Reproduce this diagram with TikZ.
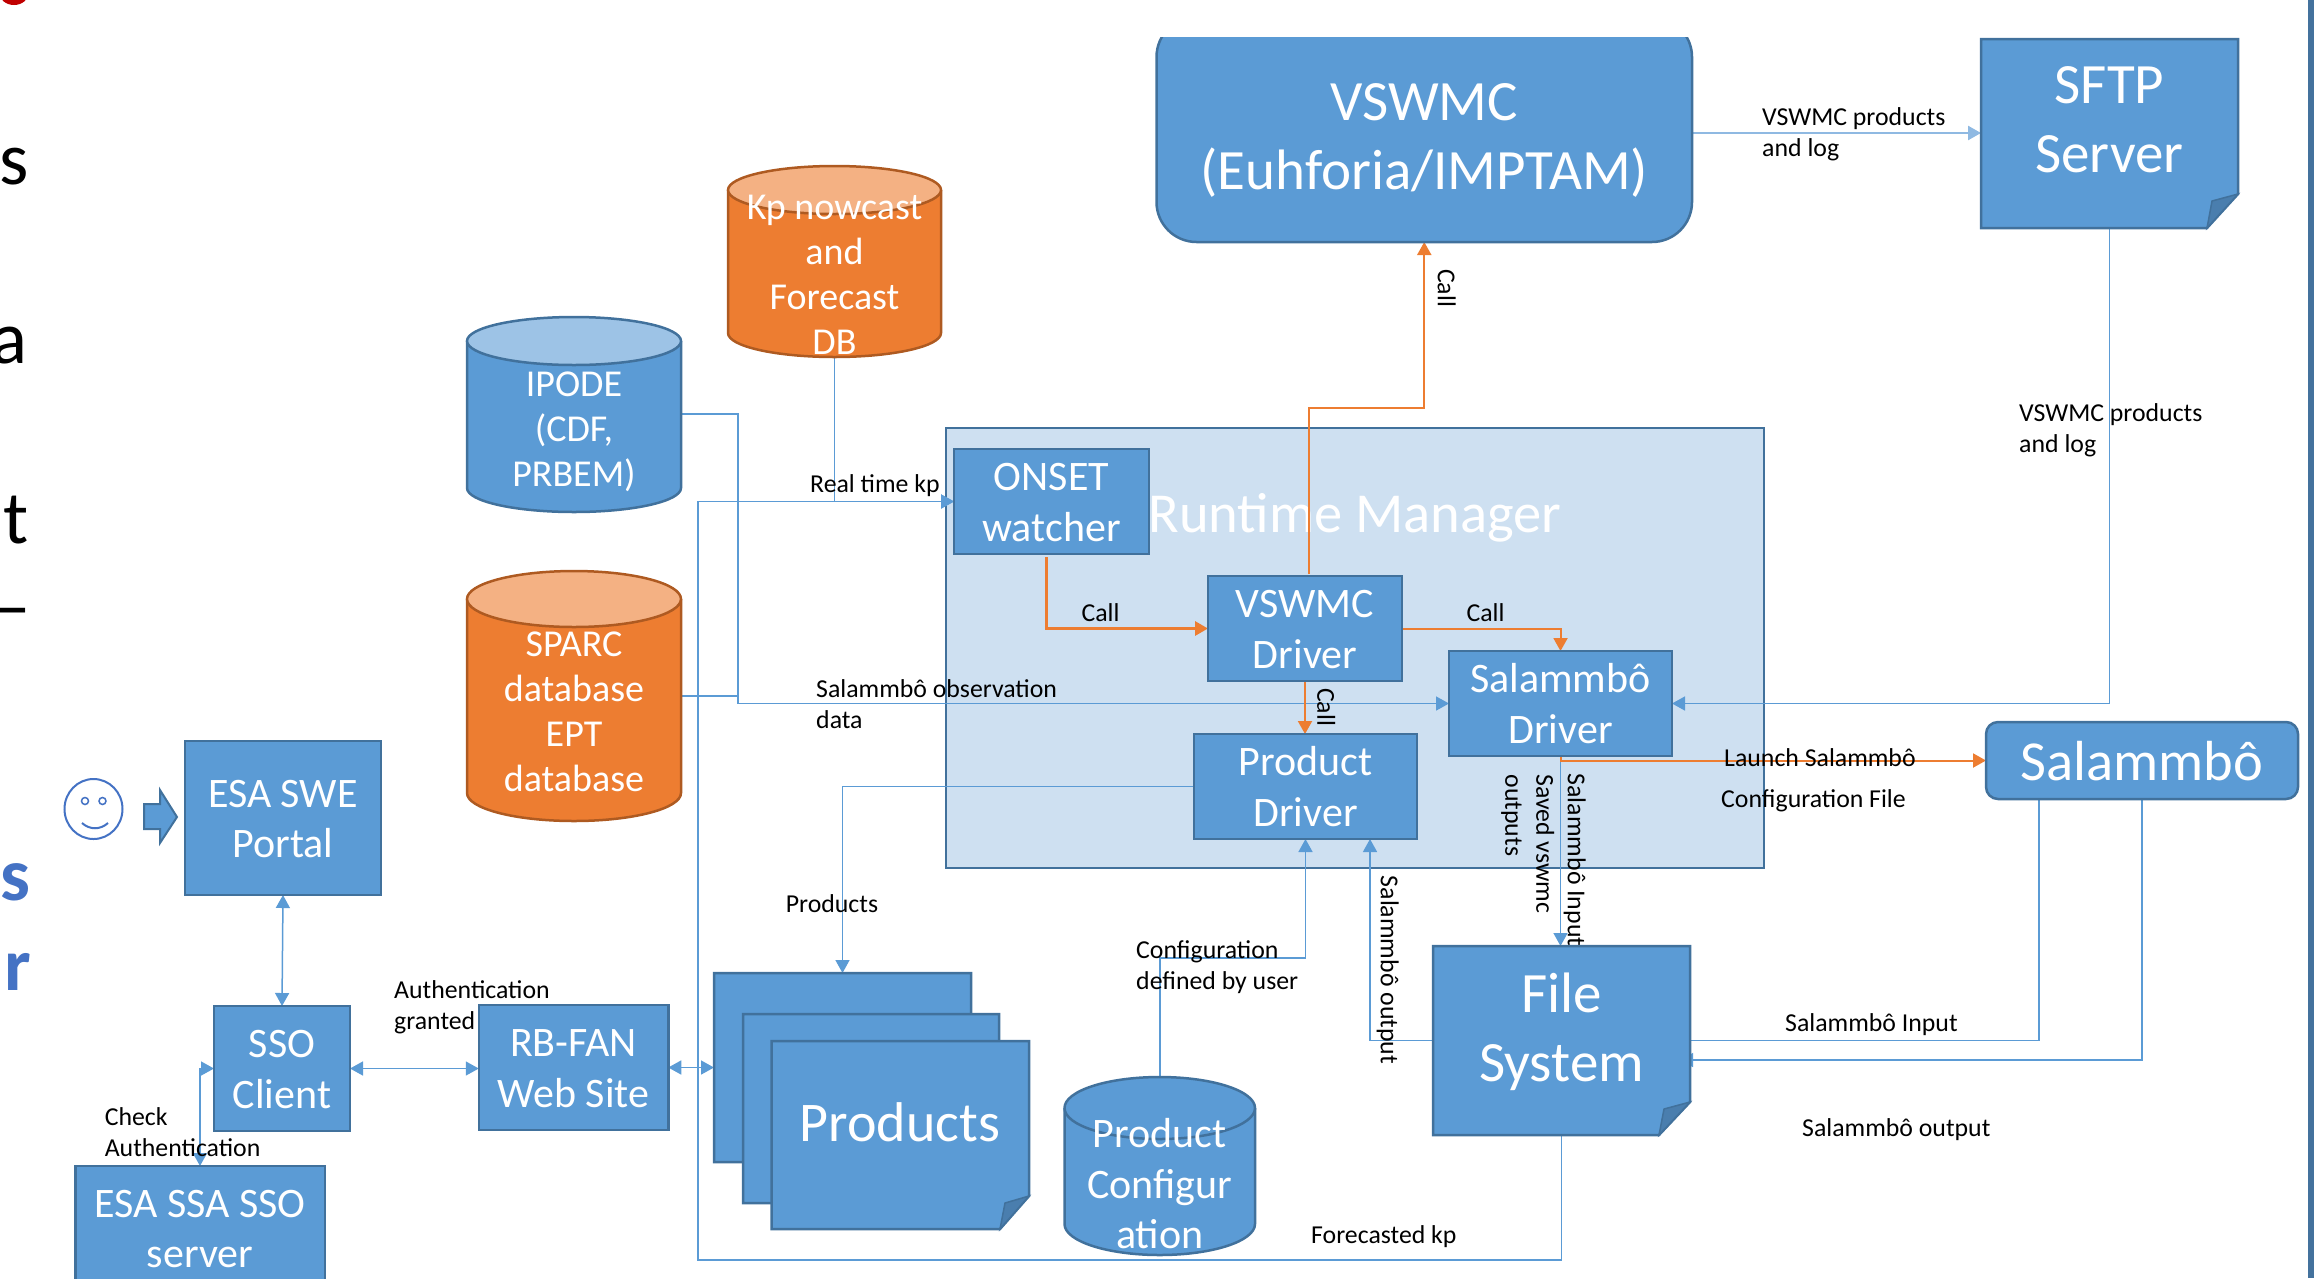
\documentclass[tikz,border=0pt]{standalone}
\usepackage{fontspec}
\setmainfont{Carlito}
\usetikzlibrary{arrows.meta,calc}
\definecolor{bfill}{HTML}{5B9BD5}
\definecolor{bedge}{HTML}{41719C}
\definecolor{btop}{HTML}{9DC3E6}
\definecolor{bfold}{HTML}{4A7EAE}
\definecolor{ofill}{HTML}{ED7D31}
\definecolor{oedge}{HTML}{AE5A21}
\definecolor{otop}{HTML}{F4B183}
\definecolor{rfill}{HTML}{CEE0F1}
\definecolor{lineb}{HTML}{5B9BD5}
\definecolor{linel}{HTML}{8FB9E2}
\definecolor{sidebar}{HTML}{44729D}
\definecolor{slideblue}{HTML}{4472C4}
\definecolor{slidered}{HTML}{C00000}
\newcommand{\ftS}{\fontsize{25.8}{31}\selectfont}
\newcommand{\ftM}{\fontsize{38}{45}\selectfont}
\newcommand{\ftL}{\fontsize{42}{50.5}\selectfont}
\newcommand{\ftX}{\fontsize{57}{69}\selectfont}
\newcommand{\st}{\rule[-0.2em]{0pt}{1.1em}}
\newcommand{\T}[1]{\st #1\st}
% name, x1, x2, y-top-centre, y-bottom-centre, ry, fill, topfill, edge
\newcommand{\cyl}[9]{%
  \draw[line width=2.5pt,draw=#9,fill=#7] (#2,#4) -- (#2,#5)
     arc[start angle=180,end angle=0,x radius={(#3-#2)/2},y radius=#6]
     -- (#3,#4);
  \draw[line width=2.5pt,draw=#9,fill=#8] ({(#2+#3)/2},#4) ellipse[x radius={(#3-#2)/2},y radius=#6];
}
% x1,y1,x2,y2,fold height,fold width
\newcommand{\foldbox}[6]{%
  \draw[line width=2.5pt,draw=bedge,fill=bfill] (#1,#2) -- (#3,#2) -- (#3,#4-#5) -- (#3-#6,#4) -- (#1,#4) -- cycle;
  \draw[line width=1.5pt,draw=bedge,fill=bfold] (#3,#4-#5) -- (#3-#6+5,#4-#5+7) -- (#3-#6,#4) -- cycle;
}
\tikzset{
  boxn/.style={draw=bedge,fill=bfill,line width=2.5pt,text=white,align=center,inner sep=0pt,font=\ftL},
  ghost/.style={inner sep=0pt,outer sep=0pt},
  ctext/.style={text=white,align=center,inner sep=0pt},
  lab/.style={text=black,align=left,inner sep=0pt,font=\ftS},
  edge thin/.style={draw=lineb,line width=1.5pt},
  edge org/.style={draw=ofill,line width=2pt},
  edge orgt/.style={draw=ofill,line width=3pt},
  tipe/.style={-{Triangle[length=13pt,width=14pt]}},
  tipb/.style={{Triangle[length=13pt,width=14pt]}-{Triangle[length=13pt,width=14pt]}},
}
\begin{document}
\begin{tikzpicture}[x=1pt,y=-1pt]
\useasboundingbox (0,0) rectangle (2314,1278);
\clip (0,0) rectangle (2314,1278);
% slide remains at the left edge and right edge
\fill[slidered] (14,-8) ellipse[x radius=15,y radius=13];
\fill[sidebar] (2308,0) rectangle (2314,1278);
\node[anchor=base east,inner sep=0pt,font=\fontsize{75}{90}\selectfont] (frs) at (29,184) {s};
\node[anchor=base east,inner sep=0pt,font=\fontsize{75}{90}\selectfont] (fra) at (28,363) {a};
\node[anchor=base east,inner sep=0pt,font=\fontsize{75}{90}\selectfont] (frt) at (29,543) {nt};
\node[anchor=base east,inner sep=0pt,font=\fontsize{75}{90}\selectfont] (frd) at (31,631) {–};
\node[anchor=base east,inner sep=0pt,text=slideblue,font=\fontsize{75}{90}\selectfont\bfseries] (frb) at (31,900) {s};
\node[anchor=base east,inner sep=0pt,text=slideblue,font=\fontsize{75}{90}\selectfont\bfseries] (frr) at (31,990) {r};

% runtime manager panel
\node[draw=bedge,fill=rfill,line width=2.5pt,minimum width=818pt,minimum height=440pt,inner sep=0pt] (runtime) at (1355,648) {};
\node[text=white,inner sep=0pt,font=\fontsize{56.5}{70}\selectfont] (rtlabel) at (1355,513) {\T{Runtime Manager}};

% geometry of shapes without a simple node outline
\node[ghost,minimum width=214pt,minimum height=194pt] (ipode) at (574,414) {};
\node[ghost,minimum width=214pt,minimum height=250pt] (sparc) at (574,696) {};
\node[ghost,minimum width=213pt,minimum height=193pt] (kp) at (834.5,260.5) {};
\node[ghost,minimum width=190.5pt,minimum height=178pt] (cfg) at (1159.75,1166) {};
\node[ghost,minimum width=257pt,minimum height=189pt] (file) at (1561.5,1040.5) {};
\node[ghost,minimum width=257pt,minimum height=189pt] (sftp) at (2109.5,133.5) {};
\node[ghost,minimum width=257pt,minimum height=189pt] (back) at (842.5,1067.5) {};
\node[ghost,minimum width=535.5pt,minimum height=225pt] (vswmc) at (1424.25,129.5) {};
\node[ghost,minimum width=312pt,minimum height=77pt] (salam) at (2142,760.5) {};
\node[ghost,minimum width=223pt,minimum height=105pt] (sdrv) at (1560.5,703.5) {};
\node[ghost,minimum width=223pt,minimum height=105pt] (pdrv) at (1305.5,786.5) {};
\node[ghost,minimum width=194pt,minimum height=105pt] (vdrv) at (1305,628.5) {};
\node[ghost,minimum width=195pt,minimum height=105pt] (onset) at (1051.5,501.5) {};
\node[ghost,minimum width=196pt,minimum height=154pt] (portal) at (283,818) {};
\node[ghost,minimum width=136pt,minimum height=125pt] (sso) at (282,1068.5) {};
\node[ghost,minimum width=189.5pt,minimum height=125pt] (rbfan) at (573.5,1067.5) {};
\node[ghost,minimum width=249.5pt,minimum height=124pt] (esasso) at (200,1228) {};

\coordinate (bus) at (738,703.5);
\coordinate (fk) at (698,1260);
\coordinate (cc) at (1159.75,958);
\coordinate (p2) at (1370,839);
\coordinate (q1) at (2039,799);
\coordinate (q3) at (1680,1060);
\coordinate (on1) at (1046,557);
\coordinate (v2) at (1309,574);
\coordinate (v3) at (1309,408);
\coordinate (v1) at (1692,133);

% connectors
\draw[edge thin,tipe] (kp.south) -- (kp.south |- onset.west) -- (onset.west);
\draw[edge thin,tipe] (file.south) |- (fk) |- (onset.west);
\draw[edge thin] (ipode.east) -| (bus);
\draw[edge thin] (sparc.east) -| (bus);
\draw[edge thin,tipe] (bus) -- (sdrv.west);
\draw[edge thin,tipe] (sftp.south) |- (sdrv.east);
\draw[edge thin,tipe] (sdrv.south) -- (sdrv.south |- file.north);
\draw[edge thin,tipe] (pdrv.west) -| (back.north);
\draw[edge thin,tipe] (cfg.north) -- (cc) -| (pdrv.south);
\draw[edge thin,tipe] (file.west) -| (p2);
\draw[edge thin] (file.east) -| (q1);
\draw[edge thin,tipe] (salam.south) |- (q3);
\draw[draw=linel,line width=2.5pt,tipe] (v1) -- (v1 -| sftp.west);
\draw[edge thin,tipb] (portal.south) -- (sso.north);
\draw[edge thin,tipb] (sso.east) -- (sso.east -| rbfan.west);
\draw[edge thin,tipb] (rbfan.east) -- (rbfan.east -| back.west);
\draw[edge thin,tipb] (esasso.north) |- (sso.west);
\draw[edge orgt,tipe] (on1) |- (vdrv.west);
\draw[edge org,tipe] (vdrv.east) -| (sdrv.north);
\draw[edge org,tipe] (vdrv.south) -- (vdrv.south |- pdrv.north);
\draw[edge org,tipe] (v2) -- (v3) -| (vswmc.south);
\draw[edge org,tipe] (sdrv.south) |- (salam.west);

% cylinders
\cyl{ipode}{467}{681}{341}{488}{24}{bfill}{btop}{bedge}
\node[ctext,font=\ftM] (ipodet) at (574,428) {\T{IPODE\\(CDF,\\PRBEM)}};
\cyl{sparc}{467}{681}{599}{793}{28}{ofill}{otop}{oedge}
\node[ctext,font=\ftM] (sparct) at (574,711) {\T{SPARC\\database\\EPT\\database}};
\cyl{kp}{728}{941}{190}{333}{24}{ofill}{otop}{oedge}
\node[ctext,font=\ftM] (kpt) at (834.5,274) {\T{Kp nowcast\\and\\Forecast\\DB}};
\cyl{cfg}{1064.5}{1255}{1108}{1224}{31}{bfill}{bfill}{bedge}
\node[ctext,font=\ftL] (cfgt) at (1159.75,1183.5) {\T{Product\\Configur\\ation}};

% products stack
\foldbox{714}{973}{971}{1162}{33}{29}
\foldbox{743}{1014}{999}{1203}{33}{29}
\foldbox{771.5}{1041}{1029}{1229}{33}{29}
\node[ctext,font=\fontsize{56}{66}\selectfont] (prodt) at (900,1122) {\T{Products}};

% file-like shapes
\foldbox{1433}{946}{1690}{1135}{33}{31}
\node[ctext,font=\ftX] (filet) at (1561.5,1027.5) {\T{File\\System}};
\foldbox{1981}{39}{2238}{228}{34}{31}
\node[ctext,font=\ftX] (sftpt) at (2109.5,118.5) {\T{SFTP\\Server}};

% VSWMC, cut at its top
\begin{scope}
\clip (1100,37) rectangle (1750,300);
\node[boxn,rounded corners=40pt,minimum width=535.5pt,minimum height=225pt] (vswmcs) at (vswmc) {};
\end{scope}
\node[ctext,font=\ftX] (vswmct) at (1424.25,135) {\T{VSWMC\\(Euhforia/IMPTAM)}};

% Salammbo
\node[boxn,rounded corners=12pt,minimum width=312pt,minimum height=77pt,font=\fontsize{56.5}{69}\selectfont] (salams) at (salam) {\T{Salammbô}};

% boxes
\node[boxn,minimum width=223pt,minimum height=105pt] (sdrvs) at (sdrv) {\T{Salammbô\\Driver}};
\node[boxn,minimum width=223pt,minimum height=105pt] (pdrvs) at (pdrv) {\T{Product\\Driver}};
\node[boxn,minimum width=194pt,minimum height=105pt] (vdrvs) at (vdrv) {\T{VSWMC\\Driver}};
\node[boxn,minimum width=195pt,minimum height=105pt] (onsets) at (onset) {\T{ONSET\\watcher}};
\node[boxn,minimum width=196pt,minimum height=154pt] (portals) at (portal) {\T{ESA SWE\\Portal}};
\node[boxn,minimum width=136pt,minimum height=125pt] (ssos) at (sso) {\T{SSO\\Client}};
\node[boxn,minimum width=189.5pt,minimum height=125pt] (rbfans) at (rbfan) {\T{RB-FAN\\Web Site}};
\node[boxn,minimum width=249.5pt,minimum height=124pt] (esassos) at (esasso) {\T{ESA SSA SSO\\server}};

% user with arrow
\draw[draw=slideblue,line width=2pt,fill=white] (93.5,809) ellipse[x radius=29,y radius=30];
\draw[draw=slideblue,line width=1.5pt] (85,801) circle[radius=3.5];
\draw[draw=slideblue,line width=1.5pt] (102.5,801) circle[radius=3.5];
\draw[draw=slideblue,line width=2pt] (82,823) .. controls (90,830) and (100,830) .. (108,823);
\draw[draw=bedge,fill=bfill,line width=2pt] (144,804) -- (160,804) -- (160,790) -- (177,817) -- (160,843) -- (160,829) -- (144,829) -- cycle;

% labels
\node[lab,anchor=west] (l1) at (810,483) {\T{Real time kp}};
\node[lab,anchor=west] (l2) at (816,703.5) {\T{Salammbô observation\\data}};
\node[lab] (l3) at (1100.6,612) {\T{Call}};
\node[lab] (l4) at (1485.5,612) {\T{Call}};
\node[lab,rotate=-90] (l5) at (1326.5,707) {\T{Call}};
\node[lab,rotate=-90] (l6) at (1447,288) {\T{Call}};
\node[lab,anchor=west] (l7) at (1762,131.5) {\T{VSWMC products\\and log}};
\node[lab,anchor=west] (l8) at (2019,427.5) {\T{VSWMC products\\and log}};
\node[lab,anchor=west] (l9) at (1724,757) {\T{Launch Salammbô}};
\node[lab,anchor=west] (l10) at (1721,798) {\T{Configuration File}};
\node[lab,rotate=-90] (l11) at (1577,860) {\T{Salammbô Input}};
\node[lab,rotate=-90] (l12) at (1530,844) {\T{Saved vswmc\\outputs}};
\node[lab,rotate=-90] (l13) at (1390,970) {\T{Salammbô output}};
\node[lab] (l14) at (832,903) {\T{Products}};
\node[lab,anchor=west] (l15) at (394,1005) {\T{Authentication\\granted}};
\node[lab,anchor=west] (l16) at (104.6,1132) {\T{Check\\Authentication}};
\node[lab,anchor=west] (l17) at (1136,964.5) {\T{Configuration\\defined by user}};
\node[lab,anchor=west] (l18) at (1785,1022) {\T{Salammbô Input}};
\node[lab,anchor=west] (l19) at (1802,1127) {\T{Salammbô output}};
\node[lab,anchor=west] (l20) at (1311,1234) {\T{Forecasted kp}};
\end{tikzpicture}
\end{document}
